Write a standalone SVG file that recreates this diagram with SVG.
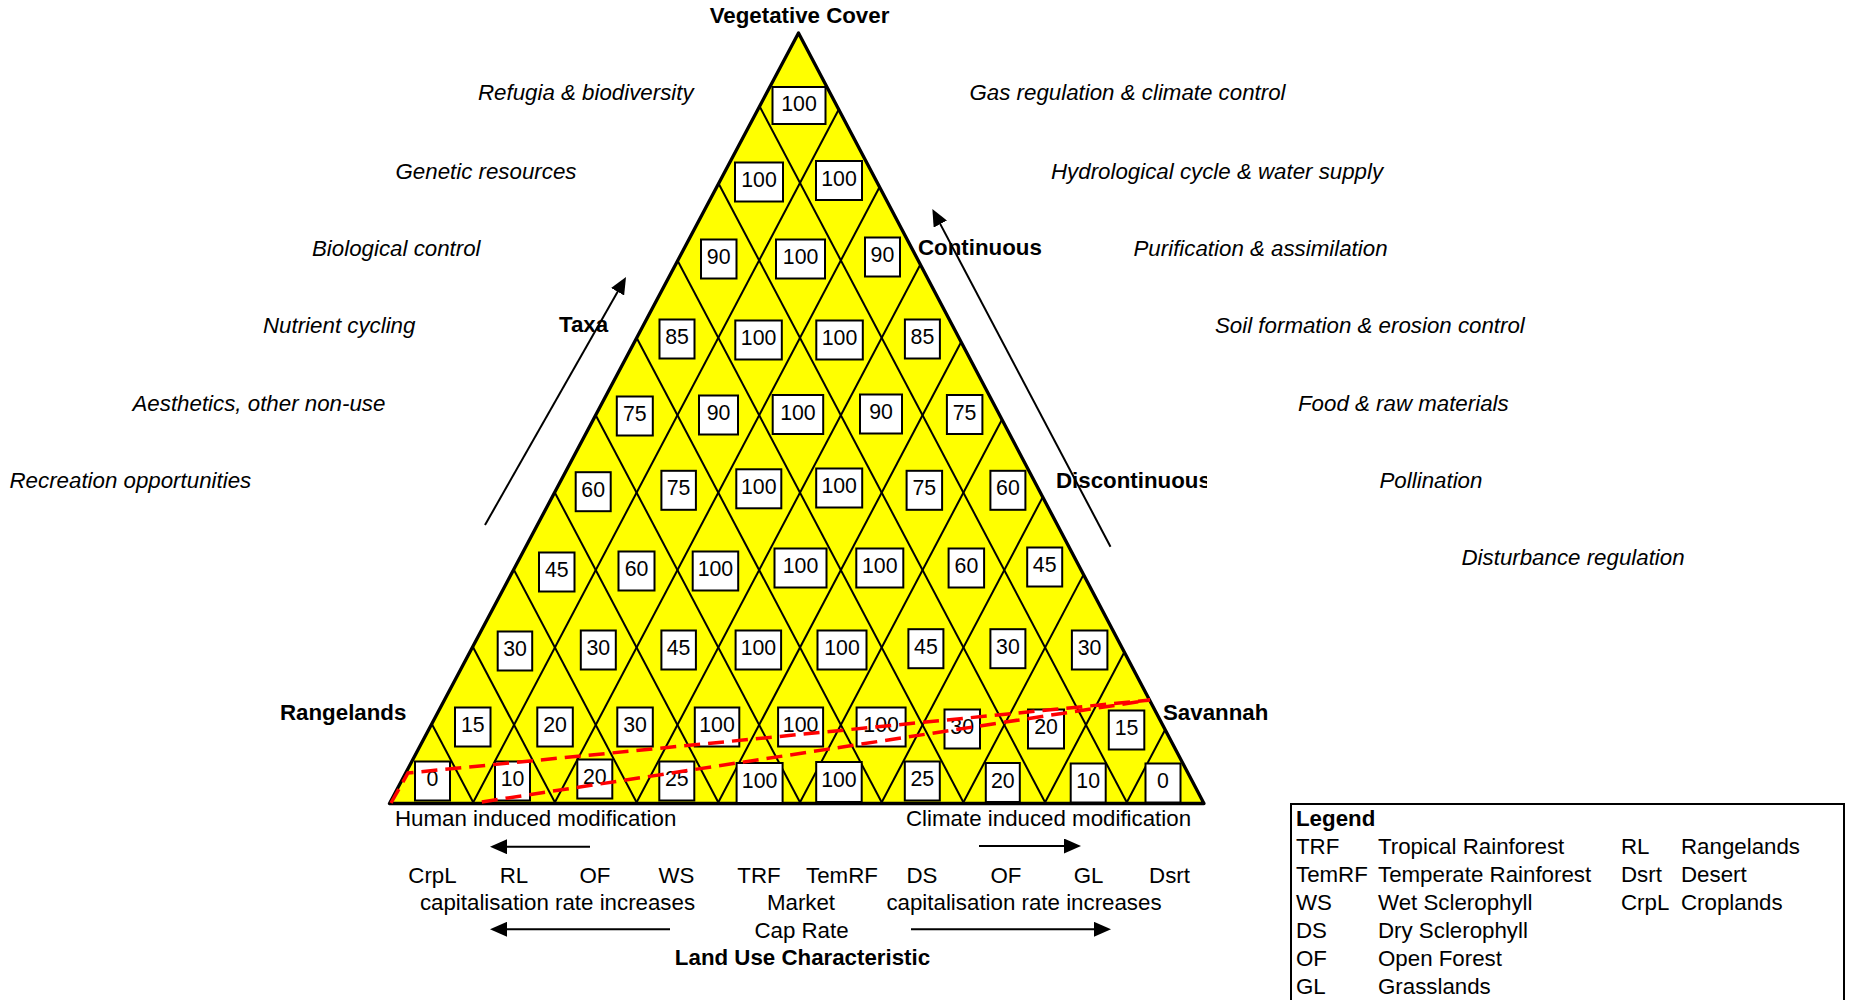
<svg xmlns="http://www.w3.org/2000/svg" width="1855" height="1000" viewBox="0 0 1855 1000">
<style>
text{font-family:"Liberation Sans",Arial,Helvetica,sans-serif;font-size:22.3px;fill:#000}
.it{font-style:italic}
.b{font-weight:bold}
.mid{text-anchor:middle}
.box rect{fill:#fff;stroke:#000;stroke-width:2}
.box text{font-size:21.3px;text-anchor:middle}
.grid line{stroke:#000;stroke-width:2}
.arr{stroke:#000;stroke-width:2;fill:none;marker-end:url(#ah)}
</style>
<defs>
<marker id="ah" markerWidth="17" markerHeight="15" refX="9" refY="7.5" orient="auto" markerUnits="userSpaceOnUse"><path d="M0,0 L17,7.5 L0,15 z" fill="#000"/></marker>
<clipPath id="tri"><polygon points="798.5,33 389.5,803.5 1204,803.5"/></clipPath>
<clipPath id="dclip"><rect x="1000" y="440" width="207" height="80"/></clipPath>
</defs>
<rect width="1855" height="1000" fill="#fff"/>

<g id="triangle">
<polygon points="798.5,33 389.5,803.5 1204,803.5" fill="#ffff00"/>
<g class="grid" clip-path="url(#tri)">
<line x1="750.98" y1="90.04" x2="1130.9" y2="810.1"/>
<line x1="710.13" y1="167.47" x2="1049.2" y2="810.1"/>
<line x1="669.28" y1="244.9" x2="967.5" y2="810.1"/>
<line x1="628.43" y1="322.33" x2="885.8" y2="810.1"/>
<line x1="587.58" y1="399.76" x2="804.1" y2="810.1"/>
<line x1="546.73" y1="477.19" x2="722.4" y2="810.1"/>
<line x1="505.88" y1="554.62" x2="640.7" y2="810.1"/>
<line x1="465.03" y1="632.05" x2="559.0" y2="810.1"/>
<line x1="424.18" y1="709.48" x2="477.3" y2="810.1"/>
<line x1="849.02" y1="90.04" x2="469.1" y2="810.1"/>
<line x1="889.87" y1="167.47" x2="550.8" y2="810.1"/>
<line x1="930.72" y1="244.9" x2="632.5" y2="810.1"/>
<line x1="971.57" y1="322.33" x2="714.2" y2="810.1"/>
<line x1="1012.42" y1="399.76" x2="795.9" y2="810.1"/>
<line x1="1053.27" y1="477.19" x2="877.6" y2="810.1"/>
<line x1="1094.12" y1="554.62" x2="959.3" y2="810.1"/>
<line x1="1134.97" y1="632.05" x2="1041.0" y2="810.1"/>
<line x1="1175.82" y1="709.48" x2="1122.7" y2="810.1"/>
</g>
<polygon points="798.5,33 389.5,803.5 1204,803.5" fill="none" stroke="#000" stroke-width="3.3" stroke-linejoin="round"/>
</g>

<g id="cells">
<g class="box" id="c1-1"><rect x="772.5" y="87" width="53" height="37"/><text x="799" y="110.5">100</text></g>
<g class="box" id="c2-1"><rect x="735" y="162.5" width="48" height="39"/><text x="759" y="187">100</text></g>
<g class="box" id="c2-2"><rect x="816" y="161" width="46" height="39"/><text x="839" y="185.5">100</text></g>
<g class="box" id="c3-1"><rect x="701" y="239.5" width="35.5" height="39"/><text x="718.7" y="264">90</text></g>
<g class="box" id="c3-2"><rect x="776" y="239.5" width="49" height="39"/><text x="800.6" y="264">100</text></g>
<g class="box" id="c3-3"><rect x="865" y="237.5" width="35" height="39"/><text x="882.4" y="262">90</text></g>
<g class="box" id="c4-1"><rect x="659.5" y="319.5" width="35" height="39"/><text x="677" y="344">85</text></g>
<g class="box" id="c4-2"><rect x="735.3" y="320.5" width="46.5" height="39"/><text x="758.6" y="345">100</text></g>
<g class="box" id="c4-3"><rect x="816.3" y="320.5" width="46.5" height="39"/><text x="839.5" y="345">100</text></g>
<g class="box" id="c4-4"><rect x="904.9" y="319.5" width="35" height="39"/><text x="922.4" y="344">85</text></g>
<g class="box" id="c5-1"><rect x="616.8" y="396.5" width="36" height="39"/><text x="634.8" y="421">75</text></g>
<g class="box" id="c5-2"><rect x="699" y="395.5" width="39" height="39"/><text x="718.5" y="420">90</text></g>
<g class="box" id="c5-3"><rect x="772.7" y="395" width="50.5" height="39"/><text x="797.9" y="419.5">100</text></g>
<g class="box" id="c5-4"><rect x="860" y="394.5" width="42" height="39"/><text x="881" y="419">90</text></g>
<g class="box" id="c5-5"><rect x="946.9" y="395" width="35.5" height="39"/><text x="964.6" y="419.5">75</text></g>
<g class="box" id="c6-1"><rect x="575.7" y="472.2" width="35" height="39"/><text x="593.2" y="496.7">60</text></g>
<g class="box" id="c6-2"><rect x="661.4" y="470.8" width="34.5" height="39"/><text x="678.6" y="495.3">75</text></g>
<g class="box" id="c6-3"><rect x="736.3" y="469.3" width="45" height="39"/><text x="758.8" y="493.8">100</text></g>
<g class="box" id="c6-4"><rect x="816.2" y="468.5" width="46" height="39"/><text x="839.2" y="493">100</text></g>
<g class="box" id="c6-5"><rect x="906.6" y="470.8" width="35.5" height="39"/><text x="924.3" y="495.3">75</text></g>
<g class="box" id="c6-6"><rect x="990.4" y="470.8" width="35" height="39"/><text x="1007.9" y="495.3">60</text></g>
<g class="box" id="c7-1"><rect x="539" y="552.5" width="35.5" height="39"/><text x="556.8" y="577">45</text></g>
<g class="box" id="c7-2"><rect x="618.5" y="551.5" width="36" height="39"/><text x="636.5" y="576">60</text></g>
<g class="box" id="c7-3"><rect x="692.7" y="551.5" width="45.5" height="39"/><text x="715.4" y="576">100</text></g>
<g class="box" id="c7-4"><rect x="774.5" y="548.5" width="52" height="39"/><text x="800.5" y="573">100</text></g>
<g class="box" id="c7-5"><rect x="856.3" y="548.5" width="47" height="39"/><text x="879.8" y="573">100</text></g>
<g class="box" id="c7-6"><rect x="948.6" y="548.5" width="35.5" height="39"/><text x="966.4" y="573">60</text></g>
<g class="box" id="c7-7"><rect x="1027.2" y="547.5" width="35" height="39"/><text x="1044.7" y="572">45</text></g>
<g class="box" id="c8-1"><rect x="497.7" y="631.5" width="34.5" height="39"/><text x="515" y="656">30</text></g>
<g class="box" id="c8-2"><rect x="580.8" y="630.5" width="35" height="39"/><text x="598.3" y="655">30</text></g>
<g class="box" id="c8-3"><rect x="661.4" y="630.5" width="34.5" height="39"/><text x="678.6" y="655">45</text></g>
<g class="box" id="c8-4"><rect x="735.6" y="630.5" width="45.5" height="39"/><text x="758.4" y="655">100</text></g>
<g class="box" id="c8-5"><rect x="817.5" y="630.5" width="49" height="39"/><text x="842" y="655">100</text></g>
<g class="box" id="c8-6"><rect x="908.4" y="629.2" width="35" height="39"/><text x="925.9" y="653.7">45</text></g>
<g class="box" id="c8-7"><rect x="990.4" y="629.2" width="35" height="39"/><text x="1007.9" y="653.7">30</text></g>
<g class="box" id="c8-8"><rect x="1071.9" y="630.5" width="35.5" height="39"/><text x="1089.6" y="655">30</text></g>
<g class="box" id="c9-1"><rect x="455" y="707.5" width="35.5" height="39"/><text x="472.8" y="732">15</text></g>
<g class="box" id="c9-2"><rect x="537.3" y="707.5" width="35.5" height="39"/><text x="555" y="732">20</text></g>
<g class="box" id="c9-3"><rect x="617.3" y="707.5" width="35.5" height="39"/><text x="635" y="732">30</text></g>
<g class="box" id="c9-4"><rect x="694.8" y="707.5" width="44.5" height="39"/><text x="717" y="732">100</text></g>
<g class="box" id="c9-5"><rect x="778.1" y="707.5" width="45" height="39"/><text x="800.6" y="732">100</text></g>
<g class="box" id="c9-6"><rect x="856.6" y="707.5" width="49" height="39"/><text x="881.1" y="732">100</text></g>
<g class="box" id="c9-7"><rect x="944.5" y="709.5" width="35.5" height="39"/><text x="962.2" y="734">30</text></g>
<g class="box" id="c9-8"><rect x="1028" y="709.5" width="36" height="39"/><text x="1046" y="734">20</text></g>
<g class="box" id="c9-9"><rect x="1108.8" y="710.5" width="35.5" height="39"/><text x="1126.5" y="735">15</text></g>
<g class="box" id="c10-1"><rect x="415" y="761.5" width="35" height="39"/><text x="432.5" y="786">0</text></g>
<g class="box" id="c10-2"><rect x="495" y="761.5" width="35" height="39"/><text x="512.5" y="786">10</text></g>
<g class="box" id="c10-3"><rect x="577.3" y="759.5" width="35" height="39"/><text x="594.8" y="784">20</text></g>
<g class="box" id="c10-4"><rect x="659.3" y="761.5" width="35" height="39"/><text x="676.8" y="786">25</text></g>
<g class="box" id="c10-5"><rect x="736.6" y="763" width="46" height="40"/><text x="759.6" y="788">100</text></g>
<g class="box" id="c10-6"><rect x="816.2" y="762" width="45.5" height="40"/><text x="838.9" y="787">100</text></g>
<g class="box" id="c10-7"><rect x="904.8" y="761.5" width="35" height="39"/><text x="922.3" y="786">25</text></g>
<g class="box" id="c10-8"><rect x="985.8" y="763" width="34" height="39"/><text x="1002.8" y="787.5">20</text></g>
<g class="box" id="c10-9"><rect x="1070.7" y="763.5" width="35" height="39"/><text x="1088.2" y="788">10</text></g>
<g class="box" id="c10-10"><rect x="1145.5" y="763.5" width="35" height="39"/><text x="1163" y="788">0</text></g>
</g>

<g id="boundary" fill="none" stroke="#ff0000" stroke-width="3.5" stroke-dasharray="16 8">
<path d="M391,803 L408,773 L1150,700 L475,803"/>
</g>

<g id="connectors">
<line class="arr" x1="485" y1="525" x2="622.05" y2="283.95"/>
<line class="arr" x1="1110.5" y1="546.7" x2="936.1" y2="216.1"/>
<line class="arr" x1="590" y1="846.7" x2="498" y2="846.7"/>
<line class="arr" x1="670" y1="929.3" x2="498" y2="929.3"/>
<line class="arr" x1="979" y1="846" x2="1073" y2="846"/>
<line class="arr" x1="911" y1="929.3" x2="1103" y2="929.3"/>
</g>

<g id="title"><text class="b mid" x="799.5" y="23">Vegetative Cover</text></g>
<g id="left-services">
<text class="it" x="478" y="100">Refugia &amp; biodiversity</text>
<text class="it" x="395.5" y="179">Genetic resources</text>
<text class="it" x="312" y="256">Biological control</text>
<text class="it" x="263" y="333">Nutrient cycling</text>
<text class="it" x="132.5" y="411">Aesthetics, other non-use</text>
<text class="it" x="9.5" y="488">Recreation opportunities</text>
</g>
<g id="right-services">
<text class="it" x="969.5" y="100">Gas regulation &amp; climate control</text>
<text class="it" x="1051" y="179">Hydrological cycle &amp; water supply</text>
<text class="it" x="1133.5" y="256">Purification &amp; assimilation</text>
<text class="it" x="1215" y="333">Soil formation &amp; erosion control</text>
<text class="it" x="1298" y="411">Food &amp; raw materials</text>
<text class="it" x="1379.5" y="488">Pollination</text>
<text class="it" x="1461.5" y="565">Disturbance regulation</text>
</g>
<g id="axis-labels">
<text class="b" x="559" y="332">Taxa</text>
<text class="b" x="918" y="255">Continuous</text>
<text class="b" x="1056" y="488" clip-path="url(#dclip)">Discontinuous</text>
<text class="b" x="280" y="720">Rangelands</text>
<text class="b" x="1163" y="720">Savannah</text>
</g>
<g id="land-use">
<text x="395" y="826">Human induced modification</text>
<text x="906" y="826">Climate induced modification</text>
<text class="mid" x="432.5" y="882.5">CrpL</text>
<text class="mid" x="514" y="882.5">RL</text>
<text class="mid" x="595" y="882.5">OF</text>
<text class="mid" x="676.5" y="882.5">WS</text>
<text class="mid" x="759" y="882.5">TRF</text>
<text class="mid" x="842" y="882.5">TemRF</text>
<text class="mid" x="922" y="882.5">DS</text>
<text class="mid" x="1006" y="882.5">OF</text>
<text class="mid" x="1088.5" y="882.5">GL</text>
<text class="mid" x="1169.5" y="882.5">Dsrt</text>
<text class="mid" x="557.5" y="910">capitalisation rate increases</text>
<text class="mid" x="801" y="910">Market</text>
<text class="mid" x="1024" y="910">capitalisation rate increases</text>
<text class="mid" x="801.5" y="938">Cap Rate</text>
<text class="b mid" x="802.5" y="965">Land Use Characteristic</text>
</g>
<g id="legend">
<rect x="1291" y="804" width="553" height="220" fill="#fff" stroke="#000" stroke-width="2"/>
<text class="b" x="1296" y="826">Legend</text>
<text x="1296" y="854">TRF</text><text x="1378" y="854">Tropical Rainforest</text>
<text x="1296" y="882">TemRF</text><text x="1378" y="882">Temperate Rainforest</text>
<text x="1296" y="910">WS</text><text x="1378" y="910">Wet Sclerophyll</text>
<text x="1296" y="938">DS</text><text x="1378" y="938">Dry Sclerophyll</text>
<text x="1296" y="966">OF</text><text x="1378" y="966">Open Forest</text>
<text x="1296" y="994">GL</text><text x="1378" y="994">Grasslands</text>
<text x="1621" y="854">RL</text><text x="1681" y="854">Rangelands</text>
<text x="1621" y="882">Dsrt</text><text x="1681" y="882">Desert</text>
<text x="1621" y="910">CrpL</text><text x="1681" y="910">Croplands</text>
</g>
</svg>
